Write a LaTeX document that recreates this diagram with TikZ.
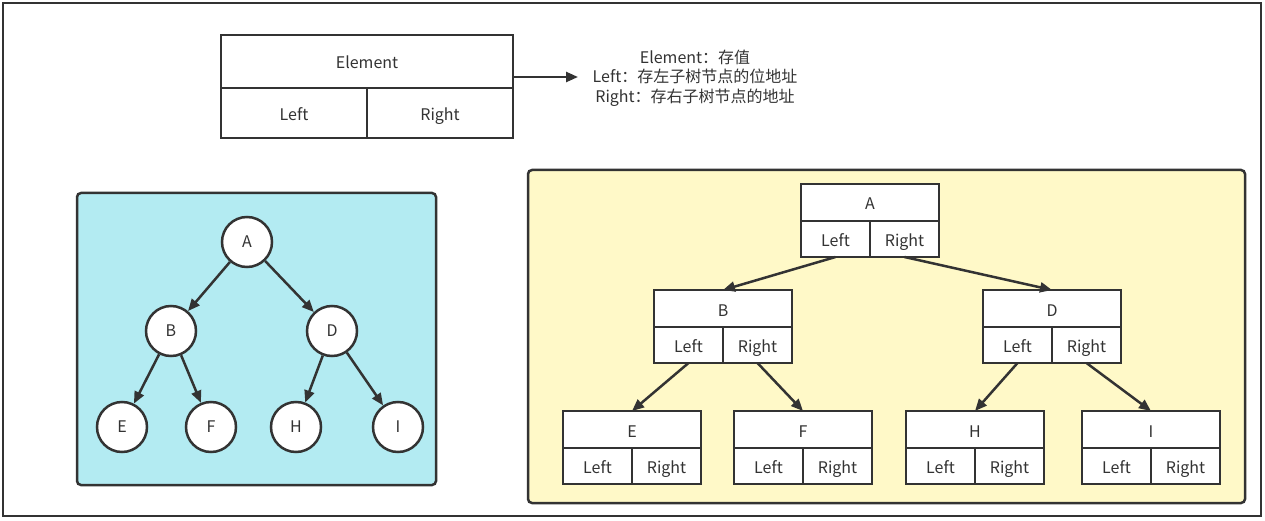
\documentclass[tikz,border=0pt]{standalone}
\usepackage{fontspec}
\setmainfont{Noto Sans CJK SC}
\usetikzlibrary{arrows.meta}
\definecolor{linea}{HTML}{333333}
\definecolor{celeste}{HTML}{B3EBF2}
\definecolor{amarillo}{HTML}{FFF9C8}
\tikzset{
  celda/.style={draw=linea, line width=2.5pt, fill=white, inner sep=0pt, outer sep=0pt, anchor=north west, text=linea, text height=15pt, text depth=0pt},
  nodo/.style={circle, draw=linea, line width=2.5pt, fill=white, minimum size=50pt, inner sep=0pt, text=linea},
  flecha/.style={draw=linea, line width=2.5pt, -{Triangle[length=12pt,width=10pt]}},
  caja/.style={draw=linea, line width=2.5pt, rounded corners=4pt}
}
% registro con celdas Element / Left / Right
\newcommand{\registro}[4]{%
  \node[celda, minimum width=138pt, minimum height=37pt] (#1) at (#2,#3) {#4};
  \node[celda, minimum width=69pt, minimum height=36pt] (#1-l) at (#1.south west) {Left};
  \node[celda, minimum width=69pt, minimum height=36pt] (#1-r) at (#1-l.north east) {Right};
}
\begin{document}
\begin{tikzpicture}[x=1pt, y=-1pt, font=\fontsize{16}{19.5}\selectfont]
   \useasboundingbox (0,0) rectangle (1265,521);
   %marco
   \draw[draw=linea, line width=2.5pt] (3,3) rectangle (1261,516);
   %leyenda
   \node[celda, minimum width=292pt, minimum height=53pt] (elem) at (221,35) {Element};
   \node[celda, minimum width=146pt, minimum height=50pt] (elem-l) at (elem.south west) {Left};
   \node[celda, minimum width=146pt, minimum height=50pt] (elem-r) at (elem-l.north east) {Right};
   \coordinate (punta) at (578,77);
   \draw[flecha] (elem.east |- punta) -- (punta);
   \node[align=center, text=linea] (nota) at (695,78) {Element：存值\\Left：存左子树节点的位地址\\Right：存右子树节点的地址};
   %arbol de circulos
   \draw[caja, fill=celeste] (77,193) rectangle (436,485);
   \node[nodo] (cA) at (247,242) {A};
   \node[nodo] (cB) at (171,331) {B};
   \node[nodo] (cD) at (332,331) {D};
   \node[nodo] (cE) at (122,427) {E};
   \node[nodo] (cF) at (211,427) {F};
   \node[nodo] (cH) at (296,427) {H};
   \node[nodo] (cI) at (398,427) {I};
   \draw[flecha] (cA) -- (cB);
   \draw[flecha] (cA) -- (cD);
   \draw[flecha] (cB) -- (cE);
   \draw[flecha] (cB) -- (cF);
   \draw[flecha] (cD) -- (cH);
   \draw[flecha] (cD) -- (cI);
   %arbol de registros
   \draw[caja, fill=amarillo] (528,170) rectangle (1245,503);
   \registro{rA}{801}{184}{A}
   \registro{rB}{654}{290}{B}
   \registro{rD}{983}{290}{D}
   \registro{rE}{563}{411}{E}
   \registro{rF}{734}{411}{F}
   \registro{rH}{906}{411}{H}
   \registro{rI}{1082}{411}{I}
   \draw[flecha] (rA-l.south) -- (rB.north);
   \draw[flecha] (rA-r.south) -- (rD.north);
   \draw[flecha] (rB-l.south) -- (rE.north);
   \draw[flecha] (rB-r.south) -- (rF.north);
   \draw[flecha] (rD-l.south) -- (rH.north);
   \draw[flecha] (rD-r.south) -- (rI.north);
\end{tikzpicture}
\end{document}
